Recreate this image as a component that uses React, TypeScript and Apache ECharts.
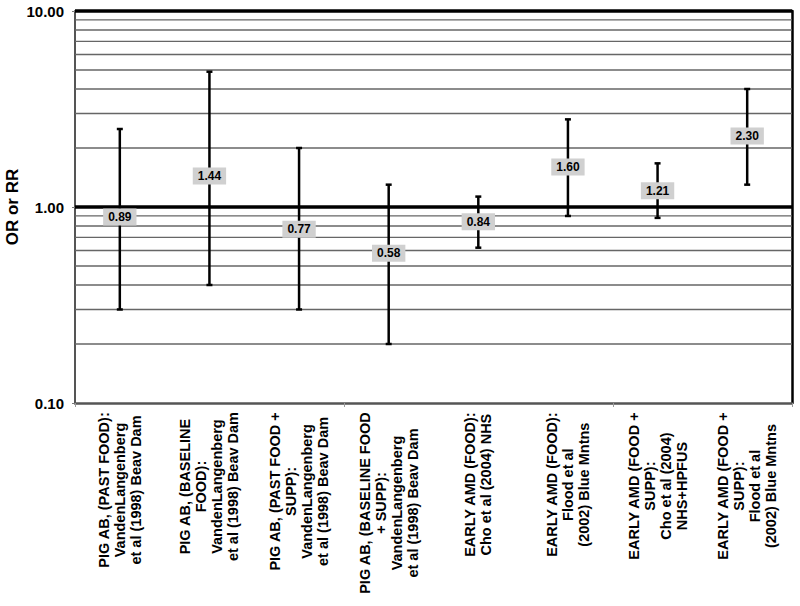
import React, { useEffect, useRef } from "react";
import * as echarts from "echarts";

const categories: string[] = [
  "PIG AB, (PAST FOOD):\nVandenLangenberg\net al (1998) Beav Dam",
  "PIG AB, (BASELINE\nFOOD):\nVandenLangenberg\net al (1998) Beav Dam",
  "PIG AB, (PAST FOOD +\nSUPP):\nVandenLangenberg\net al (1998) Beav Dam",
  "PIG AB, (BASELINE FOOD\n+ SUPP):\nVandenLangenberg\net al (1998) Beav Dam",
  "EARLY AMD (FOOD):\nCho et al (2004) NHS",
  "EARLY AMD (FOOD):\nFlood et al\n(2002) Blue Mntns",
  "EARLY AMD (FOOD +\nSUPP):\nCho et al (2004)\nNHS+HPFUS",
  "EARLY AMD (FOOD +\nSUPP):\nFlood et al\n(2002) Blue Mntns",
];
const estimates: number[] = [0.89, 1.44, 0.77, 0.58, 0.84, 1.6, 1.21, 2.3];
const lowerCI: number[] = [0.3, 0.4, 0.3, 0.2, 0.62, 0.9, 0.88, 1.3];
const upperCI: number[] = [2.5, 4.9, 2.0, 1.3, 1.13, 2.8, 1.67, 4.0];
const minorGridValues: number[] = [0.2, 0.3, 0.4, 0.5, 0.6, 0.7, 0.8, 0.9, 2, 3, 4, 5, 6, 7, 8, 9];
const majorGridValues: number[] = [1, 10];
const yMin = 0.1;
const yMax = 10;
const yTitle = "OR or RR";

const FONT = "'Liberation Sans', Arial, Helvetica, sans-serif";
const CAT_FONT = "bold 14.5px " + FONT;
const CAT_LINE_HEIGHT = 16;
const CAT_MARGIN = 9;

let measureCtx: CanvasRenderingContext2D | null = null;
function measure(text: string, font: string): number {
  if (!measureCtx) {
    const c = document.createElement("canvas");
    measureCtx = c.getContext("2d");
  }
  if (!measureCtx) return text.length * 8;
  measureCtx.font = font;
  return measureCtx.measureText(text).width;
}

export default function App() {
  const ref = useRef<HTMLDivElement>(null);
  useEffect(() => {
    if (!ref.current) return;
    const chart = echarts.init(ref.current, undefined, { renderer: "svg" });

    const barData = categories.map((_, i) => [i, lowerCI[i], upperCI[i], estimates[i]]);
    const minorData = minorGridValues.map((v) => [0, v, 0]);
    const majorData = majorGridValues.map((v) => [0, v, 1]);
    const labelData = categories.map((_, i) => [i, yMin]);

    const gridRender = (params: any, api: any) => {
      const cs = params.coordSys;
      const y = api.coord([0, api.value(1)])[1];
      const major = api.value(2) === 1;
      return {
        type: "line",
        shape: { x1: cs.x, y1: y, x2: cs.x + cs.width, y2: y },
        style: major
          ? { stroke: "#000", lineWidth: 3.5 }
          : { stroke: "#666", lineWidth: 1.3 },
      };
    };

    const option: any = {
      animation: false,
      backgroundColor: "#fff",
      textStyle: { fontFamily: FONT },
      grid: { left: 75, right: 8, top: 11, bottom: 203, containLabel: false },
      xAxis: {
        type: "category",
        data: categories,
        boundaryGap: true,
        axisLine: { show: true, lineStyle: { color: "#555", width: 2.5 } },
        axisTick: { show: true, alignWithLabel: false, length: 4, lineStyle: { color: "#999", width: 1 } },
        splitLine: { show: false },
        axisLabel: { show: false },
      },
      yAxis: [
        {
          type: "log",
          logBase: 10,
          min: yMin,
          max: yMax,
          position: "left",
          axisLine: { show: true, lineStyle: { color: "#555", width: 2 } },
          axisTick: { show: true, length: 3, lineStyle: { color: "#777" } },
          splitLine: { show: false },
          minorTick: { show: false },
          axisLabel: {
            formatter: (v: number) => v.toFixed(2),
            fontSize: 15,
            fontWeight: "bold",
            color: "#000",
            margin: 11,
            fontFamily: FONT,
          },
        },
        {
          type: "log",
          logBase: 10,
          min: yMin,
          max: yMax,
          position: "right",
          axisLine: { show: true, lineStyle: { color: "#000", width: 2.5 } },
          axisTick: { show: false },
          axisLabel: { show: false },
          splitLine: { show: false },
        },
      ],
      graphic: [
        {
          type: "text",
          x: 12,
          y: 207,
          rotation: Math.PI / 2,
          style: {
            text: yTitle,
            align: "center",
            verticalAlign: "middle",
            font: "bold 17px " + FONT,
            fill: "#000",
          },
        },
      ],
      series: [
        {
          type: "custom",
          z: 1,
          silent: true,
          data: minorData,
          encode: { x: 0, y: 1 },
          renderItem: gridRender,
        },
        {
          type: "custom",
          z: 2,
          silent: true,
          data: majorData,
          encode: { x: 0, y: 1 },
          renderItem: gridRender,
        },
        {
          type: "custom",
          z: 3,
          silent: true,
          clip: false,
          data: labelData,
          encode: { x: 0, y: 1 },
          renderItem: (params: any, api: any) => {
            const idx = api.value(0);
            const cs = params.coordSys;
            const x = api.coord([idx, yMin])[0];
            const top = cs.y + cs.height + CAT_MARGIN;
            const lines = categories[idx].split("\n");
            const n = lines.length;
            const maxW = Math.max(...lines.map((l) => measure(l, CAT_FONT)));
            return {
              type: "group",
              children: lines.map((l, j) => ({
                type: "text",
                x: x + (j - (n - 1) / 2) * CAT_LINE_HEIGHT,
                y: top + maxW / 2,
                rotation: Math.PI / 2,
                style: {
                  text: l,
                  align: "center",
                  verticalAlign: "middle",
                  font: CAT_FONT,
                  fill: "#000",
                },
              })),
            };
          },
        },
        {
          type: "custom",
          z: 5,
          silent: true,
          data: barData,
          encode: { x: 0, y: [1, 2] },
          renderItem: (params: any, api: any) => {
            const idx = api.value(0);
            const lo = api.coord([idx, api.value(1)]);
            const hi = api.coord([idx, api.value(2)]);
            const pt = api.coord([idx, api.value(3)]);
            const x = lo[0];
            const cap = 3;
            const st = { stroke: "#000", lineWidth: 2.5 };
            return {
              type: "group",
              children: [
                { type: "line", shape: { x1: x, y1: lo[1], x2: x, y2: hi[1] }, style: st },
                { type: "line", shape: { x1: x - cap, y1: lo[1], x2: x + cap, y2: lo[1] }, style: st },
                { type: "line", shape: { x1: x - cap, y1: hi[1], x2: x + cap, y2: hi[1] }, style: st },
                {
                  type: "text",
                  x: x,
                  y: pt[1],
                  style: {
                    text: Number(api.value(3)).toFixed(2),
                    align: "center",
                    verticalAlign: "middle",
                    font: "bold 12px " + FONT,
                    fill: "#000",
                    backgroundColor: "#d0d0d0",
                    padding: [3, 5, 2, 5],
                  },
                },
              ],
            };
          },
        },
      ],
    };
    chart.setOption(option);
    return () => chart.dispose();
  }, []);
  return (
    <div
      ref={ref}
      style={{ position: "fixed", left: 0, top: 0, width: 800, height: 606, background: "#fff" }}
    />
  );
}
